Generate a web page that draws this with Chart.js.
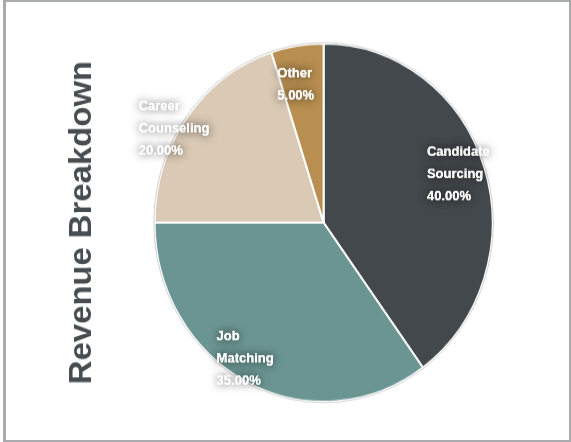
<!DOCTYPE html>
<html>
<head>
<meta charset="utf-8">
<script src="https://cdn.jsdelivr.net/npm/chart.js@4/dist/chart.umd.min.js"></script>
<style>
  html, body { margin: 0; padding: 0; background: #ffffff; }
  body { width: 571px; height: 442px; position: relative; overflow: hidden; }
  #frame { position: absolute; left: 3px; top: 0; width: 568px; height: 442px; box-sizing: border-box;
           border: 2px solid #a7abab; border-left-width: 3px; background: #ffffff; }
  #wrap { position: absolute; left: 0; top: 0; width: 571px; height: 417px;
          transform: scale(1, 1.06); transform-origin: 0 0; }
</style>
</head>
<body>
<div id="frame"></div>
<div id="wrap"><canvas id="c"></canvas></div>
<script>
const categories = ["Candidate Sourcing", "Job Matching", "Career Counseling", "Other"];
const shares = [40, 35, 20, 5];
const sliceColors = ["#42484b", "#6b9593", "#d9c9b5", "#b88f50"];
const chartTitle = "Revenue Breakdown";

const labelPlugin = {
  id: 'sliceLabels',
  afterDatasetsDraw(chart, args, opts) {
    const ctx = chart.ctx;
    const meta = chart.getDatasetMeta(0);
    const data = chart.data.datasets[0].data;
    const total = data.reduce((a, b) => a + b, 0);
    // faint outline around the pie
    const a0 = meta.data[0];
    ctx.save();
    ctx.beginPath();
    ctx.arc(a0.x, a0.y, a0.outerRadius + 0.8, 0, Math.PI * 2);
    ctx.strokeStyle = 'rgba(0,0,0,0.18)';
    ctx.lineWidth = 1;
    ctx.stroke();
    ctx.restore();

    meta.data.forEach((arc, i) => {
      const mid = (arc.startAngle + arc.endAngle) / 2 + opts.angleShift[i] * Math.PI / 180;
      const f = opts.radius[i];
      const cx = arc.x + Math.cos(mid) * arc.outerRadius * f;
      const cy = arc.y + Math.sin(mid) * arc.outerRadius * f;
      const lines = chart.data.labels[i].split(' ');
      lines.push((data[i] / total * 100).toFixed(2) + '%');
      ctx.save();
      ctx.font = 'bold 13px "Liberation Sans", Arial, sans-serif';
      const w = Math.max(...lines.map(l => ctx.measureText(l).width));
      const lh = 20.8;
      const x0 = cx - w / 2;
      const y0 = cy - lh * (lines.length - 1) / 2;
      ctx.textAlign = 'left';
      ctx.textBaseline = 'middle';
      ctx.shadowColor = 'rgba(0,0,0,0.8)';
      ctx.shadowBlur = 9;
      ctx.fillStyle = '#ffffff';
      lines.forEach((l, k) => ctx.fillText(l, x0, y0 + k * lh));
      ctx.shadowBlur = 0;
      lines.forEach((l, k) => ctx.fillText(l, x0, y0 + k * lh));
      ctx.restore();
    });
  }
};

new Chart(document.getElementById('c'), {
  type: 'pie',
  data: {
    labels: categories,
    datasets: [{
      data: shares,
      backgroundColor: sliceColors,
      borderColor: '#ffffff',
      borderWidth: 2
    }]
  },
  options: {
    responsive: true,
    maintainAspectRatio: false,
    animation: false,
    layout: { padding: { left: 54, right: 35, top: 40, bottom: 37 } },
    plugins: {
      legend: { display: false },
      tooltip: { enabled: false },
      title: {
        display: true,
        text: chartTitle,
        position: 'left',
        color: '#464c4f',
        font: { family: '"Liberation Sans", Arial, sans-serif', size: 31, weight: 'bold' },
        padding: { top: 10, bottom: 10 }
      },
      sliceLabels: { radius: [0.842, 0.891, 1.028, 0.787], angleShift: [-0.75, 4.4, -5.4, -3.1] }
    }
  },
  plugins: [labelPlugin]
});
</script>
</body>
</html>
